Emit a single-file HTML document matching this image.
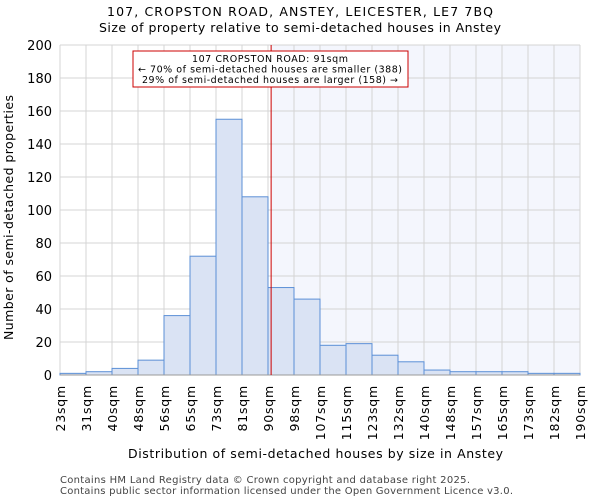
<!DOCTYPE html>
<html><head><meta charset="utf-8"><style>
body{margin:0;background:#fff;font-family:"DejaVu Sans","Liberation Sans",sans-serif}
</style></head><body>
<svg id="chart" width="600" height="500" xmlns="http://www.w3.org/2000/svg" font-family="DejaVu Sans, Liberation Sans, sans-serif">
<text x="107" y="16" font-size="12.5" textLength="386" lengthAdjust="spacing">107, CROPSTON ROAD, ANSTEY, LEICESTER, LE7 7BQ</text>
<text x="99" y="32" font-size="12.5" textLength="402" lengthAdjust="spacing">Size of property relative to semi-detached houses in Anstey</text>
<g id="plot"></g>
<text x="128" y="458" font-size="12.5" textLength="375" lengthAdjust="spacing">Distribution of semi-detached houses by size in Anstey</text>
<text transform="translate(13,340) rotate(-90)" font-size="12.5" textLength="245" lengthAdjust="spacing">Number of semi-detached properties</text>
<text x="60" y="483" font-size="10" fill="#444" textLength="410" lengthAdjust="spacing">Contains HM Land Registry data © Crown copyright and database right 2025.</text>
<text x="60" y="494" font-size="10" fill="#444" textLength="453" lengthAdjust="spacing">Contains public sector information licensed under the Open Government Licence v3.0.</text>
</svg>
<script>
const categories=["23sqm","31sqm","40sqm","48sqm","56sqm","65sqm","73sqm","81sqm","90sqm","98sqm","107sqm","115sqm","123sqm","132sqm","140sqm","148sqm","157sqm","165sqm","173sqm","182sqm","190sqm"];
const counts=[1,2,4,9,36,72,155,108,53,46,18,19,12,8,3,2,2,2,1,1];
const yTicks=[0,20,40,60,80,100,120,140,160,180,200];
const markerIndex=8.12;
const NS="http://www.w3.org/2000/svg";
const g=document.getElementById('plot');
const X0=60,X1=580,Y0=375,Y1=45;
const bw=(X1-X0)/counts.length;
const x=i=>X0+i*bw;
const y=v=>Y0-(v/200)*(Y0-Y1);
function mk(t,a){const e=document.createElementNS(NS,t);for(const k in a)e.setAttribute(k,a[k]);g.appendChild(e);return e;}
let e;
e=mk('rect',{x:x(markerIndex),y:Y1,width:X1-x(markerIndex),height:Y0-Y1,fill:'#f4f6fd'});


yTicks.forEach(t=>{
 e=mk('line',{x1:X0,x2:X1,y1:y(t),y2:y(t),stroke:'#d4d4d4'});
 
 
 e=mk('text',{x:X0-8,y:y(t)+5,'text-anchor':'end','font-size':'13'});e.textContent=t;
 
 
});
categories.forEach((c,i)=>{
 e=mk('line',{x1:x(i),x2:x(i),y1:Y1,y2:Y0,stroke:'#d4d4d4'});
 
 
 e=mk('text',{transform:`translate(${x(i)+5},${Y0+10}) rotate(-90)`,'text-anchor':'end','font-size':'12.5','letter-spacing':'0.8'});e.textContent=c;
 
 
});
counts.forEach((v,i)=>{
 e=mk('rect',{x:x(i),y:y(v),width:bw,height:Y0-y(v),fill:'#dae3f4',stroke:'#5b8fd6','stroke-width':1});
 
 
});
e=mk('line',{x1:X0,x2:X1,y1:Y0,y2:Y0,stroke:'#999'});


e=mk('line',{x1:x(markerIndex),x2:x(markerIndex),y1:Y1,y2:Y0,stroke:'#cc0000','stroke-width':1});


e=mk('rect',{x:133,y:51,width:275,height:36,fill:'#fff',stroke:'#cc0000'});


const annLines=["107 CROPSTON ROAD: 91sqm","← 70% of semi-detached houses are smaller (388)","29% of semi-detached houses are larger (158) →"];
const annW=[156,264,256];
annLines.forEach((t,k)=>{
 e=mk('text',{x:270-annW[k]/2,y:62+k*10.5,'font-size':'9.5',textLength:annW[k],lengthAdjust:'spacing'});e.textContent=t;
 
 
});
</script>
</body></html>
